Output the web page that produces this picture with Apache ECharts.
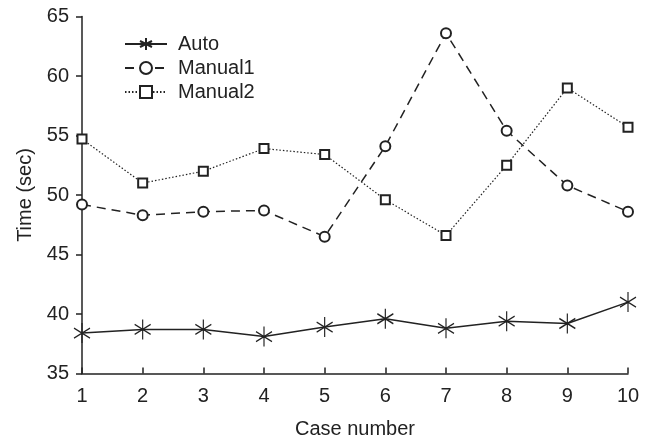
<!DOCTYPE html>
<html><head><meta charset="utf-8">
<script src="https://cdn.jsdelivr.net/npm/echarts@6/dist/echarts.min.js"></script>
<style>html,body{margin:0;padding:0;background:#fff}#c{width:651px;height:442px}</style>
</head><body><div id="c"></div>
<script>
const cases = [1,2,3,4,5,6,7,8,9,10];
const auto = [38.4,38.7,38.7,38.1,38.9,39.6,38.8,39.4,39.2,41.0];
const manual1 = [49.2,48.3,48.6,48.7,46.5,54.1,63.6,55.4,50.8,48.6];
const manual2 = [54.7,51.0,52.0,53.9,53.4,49.6,46.6,52.5,59.0,55.7];
const seriesNames = ['Auto','Manual1','Manual2'];
const yTicks = {min:35,max:65,interval:5};

const ink = '#222';
const font = 'Liberation Sans, Arial, sans-serif';
const star = 'path://M0,-10L0,10M-8.66,-5L8.66,5M-8.66,5L8.66,-5';
const pairs = a => a.map((v,i)=>[cases[i],v]);
const chart = echarts.init(document.getElementById('c'));
chart.setOption({
  animation:false,
  backgroundColor:'#fff',
  grid:{left:82,right:23,top:16.5,bottom:68.5,containLabel:false,outerBoundsMode:'none'},
  legend:{orient:'vertical',left:119,top:29,itemWidth:42,itemHeight:15,itemGap:4,
    textStyle:{fontFamily:font,fontSize:20,color:ink,padding:[0,0,0,6]},data:seriesNames},
  xAxis:{type:'value',min:1,max:10,interval:1,
    name:'Case number',nameLocation:'middle',nameGap:46,
    nameTextStyle:{fontFamily:font,fontSize:20,color:ink},
    axisLine:{lineStyle:{color:ink,width:1.5}},
    axisTick:{inside:true,length:6,lineStyle:{color:ink,width:1.5}},
    axisLabel:{fontFamily:font,fontSize:20,color:ink,margin:13},
    splitLine:{show:false}},
  yAxis:{type:'value',min:yTicks.min,max:yTicks.max,interval:yTicks.interval,
    name:'Time (sec)',nameLocation:'middle',nameGap:47,
    nameTextStyle:{fontFamily:font,fontSize:20,color:ink},
    axisLine:{show:true,lineStyle:{color:ink,width:1.5}},
    axisTick:{show:true,length:6,lineStyle:{color:ink,width:1.5}},
    axisLabel:{fontFamily:font,fontSize:20,color:ink,margin:13},
    splitLine:{show:false}},
  series:[
    {name:seriesNames[0],type:'line',data:pairs(auto),symbol:star,symbolSize:[16,20],
      lineStyle:{color:ink,width:1.5,type:'solid'},
      itemStyle:{color:ink,borderColor:ink,borderWidth:1.3}},
    {name:seriesNames[1],type:'line',data:pairs(manual1),symbol:'emptyCircle',symbolSize:10,
      lineStyle:{color:ink,width:1.5,type:[9,6]},
      itemStyle:{color:ink,borderColor:ink,borderWidth:1.3}},
    {name:seriesNames[2],type:'line',data:pairs(manual2),symbol:'emptyRect',symbolSize:9,
      lineStyle:{color:ink,width:1.2,type:[1.5,2]},
      itemStyle:{color:ink,borderColor:ink,borderWidth:1.3}}
  ]
});
</script></body></html>
